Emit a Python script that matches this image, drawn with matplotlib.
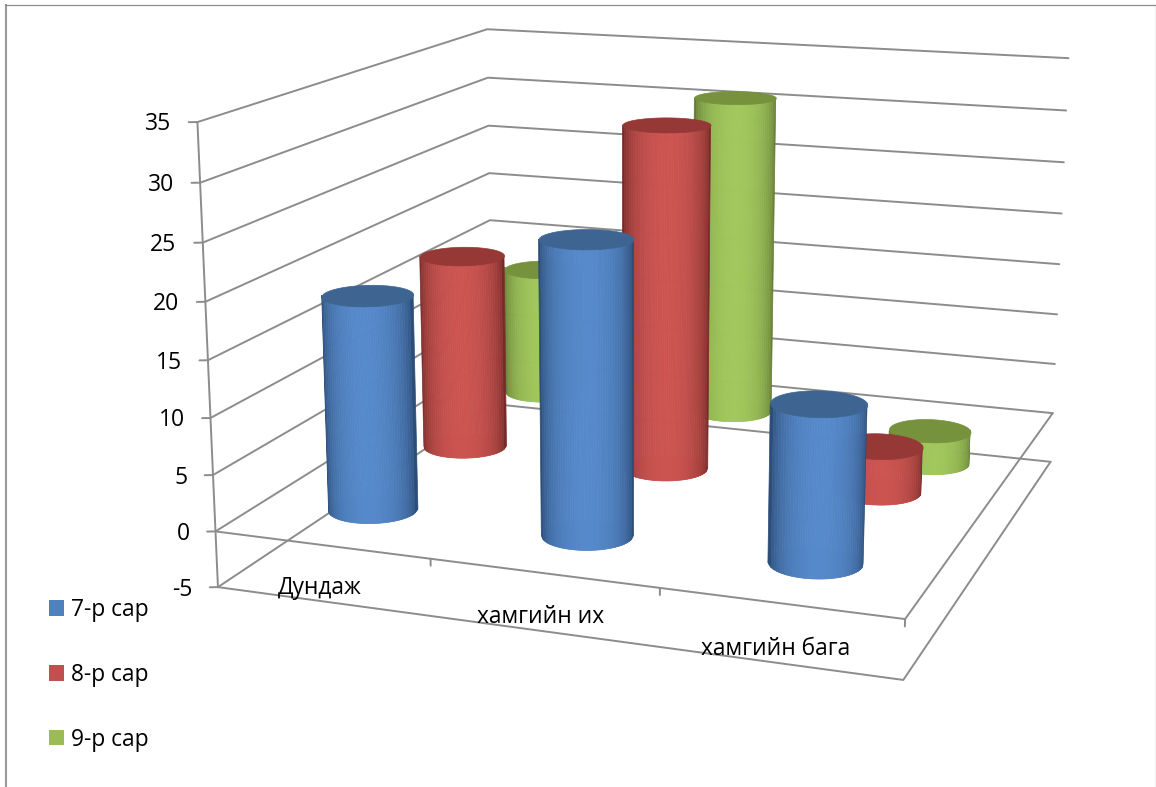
import numpy as np
import matplotlib
matplotlib.use('Agg')
import matplotlib.pyplot as plt
from matplotlib.colors import to_rgb
from matplotlib.lines import Line2D
from matplotlib.patches import Patch
from mpl_toolkits.mplot3d.art3d import Poly3DCollection

plt.rcParams['font.family'] = ['Open Sans', 'DejaVu Sans']

categories = ['Дундаж', 'хамгийн их', 'хамгийн бага']
series_names = ['7-р сар', '8-р сар', '9-р сар']
july = [19.1, 25.5, 13.5]
august = [18.3, 31.7, 4.2]
september = [12.7, 31.1, -3.2]
z_ticks = [-5, 0, 5, 10, 15, 20, 25, 30, 35]

series = [july, august, september]
body_mid = ['#5689CB', '#CC5450', '#A2C75C']
body_edge = ['#234065', '#642321', '#566B2C']
cap_colors = ['#3E6592', '#953836', '#76923D']
grid_color = '#8C8C8C'
radius = 0.195
azim = -69.836

fig = plt.figure(figsize=(11.56, 7.87), dpi=100)
ax = fig.add_axes([0.10334, -0.07257, 0.85153, 1.25079], projection='3d')
ax.set_axis_off()
for axis in (ax.xaxis, ax.yaxis, ax.zaxis):
    axis.set_visible(False)
ax.computed_zorder = False

# camera fitted to the wall corners of the original picture
ax.view_init(elev=14.684, azim=azim, roll=0.032)
ax.set_proj_type('persp', focal_length=0.4723)
ax.set_box_aspect((1.4941, 1.4887, 1.0))
ax.set_xlim(-0.2547, 2.7453)
ax.set_ylim(0.1592, 3.1592)
ax.set_zlim(-9.024, 30.976)


def line(xs, ys, zs):
    ax.plot(xs, ys, zs, color=grid_color, lw=1.4, zorder=1, solid_capstyle='round')


# walls and floor
for z in z_ticks:
    line([0, 0, 3], [0, 3, 3], [z, z, z])
    line([0, -0.032], [0, -0.014], [z, z])
    ax.text(-0.098, -0.044, z - 0.17, str(z), ha='right', va='center', fontsize=16.5, color='black')
line([0, 0], [0, 0], [-5, 35])
for z in [-5, 0]:
    line([0, 3, 3], [0, 0, 3], [z, z, z])
for i in [1, 2, 3]:
    line([i, i], [0, 0], [0, -0.6])

for i, name in enumerate(categories):
    ax.text(i + 0.485, 0, -3.85, name, ha='center', va='center', fontsize=16.4, color='black')

# cylinders, back row first. Facets of equal width on screen, thin slivers
# at the silhouette make the outline wobble
phi = np.arcsin(np.linspace(-1, 1, 41))
theta = phi + np.radians(azim)
phi_mid = (phi[:-1] + phi[1:]) / 2
circle = np.linspace(0, 2 * np.pi, 121)
for row in [2, 1, 0]:
    mid = np.array(to_rgb(body_mid[row]))
    edge = np.array(to_rgb(body_edge[row]))
    shade = np.cos(phi_mid) ** 0.95
    colors = edge + (mid - edge) * shade[:, None]
    colors = np.hstack([colors, np.ones((len(colors), 1))])[None, :, :]
    for col, value in enumerate(series[row]):
        cx = col + 0.5
        cy = row + 0.5
        low = min(0, value)
        high = max(0, value)
        X = np.array([cx + radius * np.cos(theta)] * 2)
        Y = np.array([cy + radius * np.sin(theta)] * 2)
        Z = np.array([np.full_like(theta, low), np.full_like(theta, high)])
        ax.plot_surface(X, Y, Z, facecolors=colors, shade=False, rstride=1, cstride=1,
                        linewidth=0.5, zorder=3 + 2 * (2 - row) + 0.1 * col)
        # disc under the body keeps the lower rim round
        bottom = Poly3DCollection([list(zip(cx + radius * np.cos(circle), cy + radius * np.sin(circle),
                                            np.full_like(circle, low)))],
                                  facecolors=body_mid[row], edgecolors='none',
                                  zorder=2.9 + 2 * (2 - row) + 0.1 * col)
        ax.add_collection3d(bottom)
        cap = Poly3DCollection([list(zip(cx + radius * np.cos(circle), cy + radius * np.sin(circle),
                                         np.full_like(circle, high)))],
                               facecolors=cap_colors[row], edgecolors=cap_colors[row], linewidths=0.5,
                               zorder=3.05 + 2 * (2 - row) + 0.1 * col)
        ax.add_collection3d(cap)

handles = [Patch(facecolor=c, edgecolor='none') for c in ['#4F81BD', '#C0504D', '#9BBB59']]
fig.legend(handles, series_names, loc='lower left', bbox_to_anchor=(0.0424, 0.0449), frameon=False,
           fontsize=16.4, labelspacing=1.79, handlelength=0.66, handleheight=0.66, handletextpad=0.31,
           borderpad=0, borderaxespad=0)

# outline of the pasted picture
fig.add_artist(Line2D([6 / 1156, 6 / 1156], [0, 1 - 4.5 / 787], color='#9A9A9A', lw=1.5))
fig.add_artist(Line2D([5 / 1156, 1], [1 - 4.5 / 787, 1 - 4.5 / 787], color='#8C8C8C', lw=0.9))
fig.add_artist(Line2D([1155.5 / 1156, 1155.5 / 1156], [0, 1 - 4.5 / 787], color='#8C8C8C', lw=0.9))

fig.savefig('out.png', dpi=100)
